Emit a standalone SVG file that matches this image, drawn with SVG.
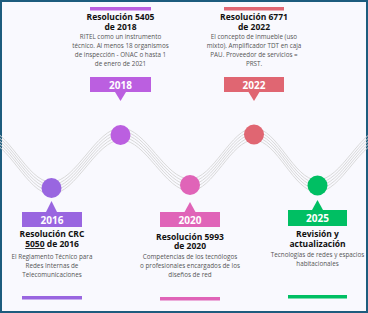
<svg xmlns="http://www.w3.org/2000/svg" xmlns:xlink="http://www.w3.org/1999/xlink" width="368" height="313" viewBox="0 0 368 313">
<style>
.title{font-family:"Open Sans","Liberation Sans",sans-serif;font-weight:700;font-size:8.5px;fill:#111;text-anchor:middle}
.desc{font-family:"Open Sans","Liberation Sans",sans-serif;font-size:6.3px;fill:#555;text-anchor:middle}
.year{font-family:"Open Sans","Liberation Sans",sans-serif;font-weight:700;font-size:10px;fill:#fff;text-anchor:middle}
.wave{fill:none;stroke:#d9d9d9;stroke-width:1}
</style>
<defs>
<path id="w" d="M-16,134 C8,134 27,188 51,188 C76,188 96,134 121,134 C146,134 165,185 190,185 C213,185 231,134 254,134 C277,134 294,186 317,186 C342,186 360,134 385,134"/>
</defs>
<rect x="1" y="1" width="366" height="311" fill="#f9f9fe" stroke="#1d5c7e" stroke-width="2"/>
<g id="connectors">
<use xlink:href="#w" class="wave" transform="translate(0,-6)"/>
<use xlink:href="#w" class="wave" transform="translate(0,-3)"/>
<use xlink:href="#w" class="wave"/>
<use xlink:href="#w" class="wave" transform="translate(0,3)"/>
<use xlink:href="#w" class="wave" transform="translate(0,6)"/>
</g>
<g id="n2016" fill="#9966e0">
<circle cx="51.5" cy="188" r="10"/>
<polygon points="46,212 57,212 51.5,201"/>
<rect x="22" y="212" width="60" height="15"/>
<text class="year" x="52" y="223.5">2016</text>
<text class="title" x="52" y="237">Resolución CRC</text>
<text class="title" x="52" y="247"><tspan text-decoration="underline">5050</tspan> de 2016</text>
<text class="desc" x="52" y="259">El Reglamento Técnico para</text>
<text class="desc" x="52" y="268">Redes Internas de</text>
<text class="desc" x="52" y="277">Telecomunicaciones</text>
<rect x="22" y="296" width="60" height="3.5"/>
</g>
<g id="n2018" fill="#bb5fe0">
<rect x="90" y="7" width="61" height="3.5"/>
<text class="title" x="120.5" y="19.5">Resolución 5405</text>
<text class="title" x="120.5" y="30">de 2018</text>
<text class="desc" x="120.5" y="39">RITEL como un instrumento</text>
<text class="desc" x="120.5" y="48">técnico. Al menos 18 organismos</text>
<text class="desc" x="120.5" y="57">de inspección - ONAC o hasta 1</text>
<text class="desc" x="120.5" y="66">de enero de 2021</text>
<rect x="90" y="77" width="61" height="15"/>
<text class="year" x="120.5" y="88.5">2018</text>
<polygon points="115,92 126,92 120.5,101"/>
<circle cx="120.5" cy="135" r="10"/>
</g>
<g id="n2020" fill="#e064b8">
<circle cx="190" cy="185" r="10"/>
<polygon points="184.5,212 195.5,212 190,202"/>
<rect x="160" y="212" width="60" height="15"/>
<text class="year" x="190" y="223.5">2020</text>
<text class="title" x="190" y="239.5">Resolución 5993</text>
<text class="title" x="190" y="249">de 2020</text>
<text class="desc" x="190" y="259">Competencias de los tecnólogos</text>
<text class="desc" x="190" y="268">o profesionales encargados de los</text>
<text class="desc" x="190" y="277">diseños de red</text>
<rect x="160" y="297" width="60" height="3.5"/>
</g>
<g id="n2022" fill="#e06672">
<rect x="224" y="7" width="60" height="3.5"/>
<text class="title" x="254" y="19.5">Resolución 6771</text>
<text class="title" x="254" y="30">de 2022</text>
<text class="desc" x="254" y="39">El concepto de inmueble (uso</text>
<text class="desc" x="254" y="48">mixto).  Amplificador TDT en caja</text>
<text class="desc" x="254" y="57">PAU. Proveedor de servicios =</text>
<text class="desc" x="254" y="66">PRST.</text>
<rect x="224" y="77" width="60" height="15"/>
<text class="year" x="254" y="88.5">2022</text>
<polygon points="248.5,92 259.5,92 254,101"/>
<circle cx="254" cy="134.5" r="10"/>
</g>
<g id="n2025" fill="#00bf63">
<circle cx="317.5" cy="185.5" r="10"/>
<polygon points="312,210 323,210 317.5,200"/>
<rect x="288" y="210" width="59" height="16"/>
<text class="year" x="317.5" y="222">2025</text>
<text class="title" x="317.5" y="237">Revisión y</text>
<text class="title" x="317.5" y="247">actualización</text>
<text class="desc" x="317.5" y="257">Tecnologías de redes y espacios</text>
<text class="desc" x="317.5" y="266">habitacionales</text>
<rect x="288" y="295" width="59" height="3.5"/>
</g>
</svg>
